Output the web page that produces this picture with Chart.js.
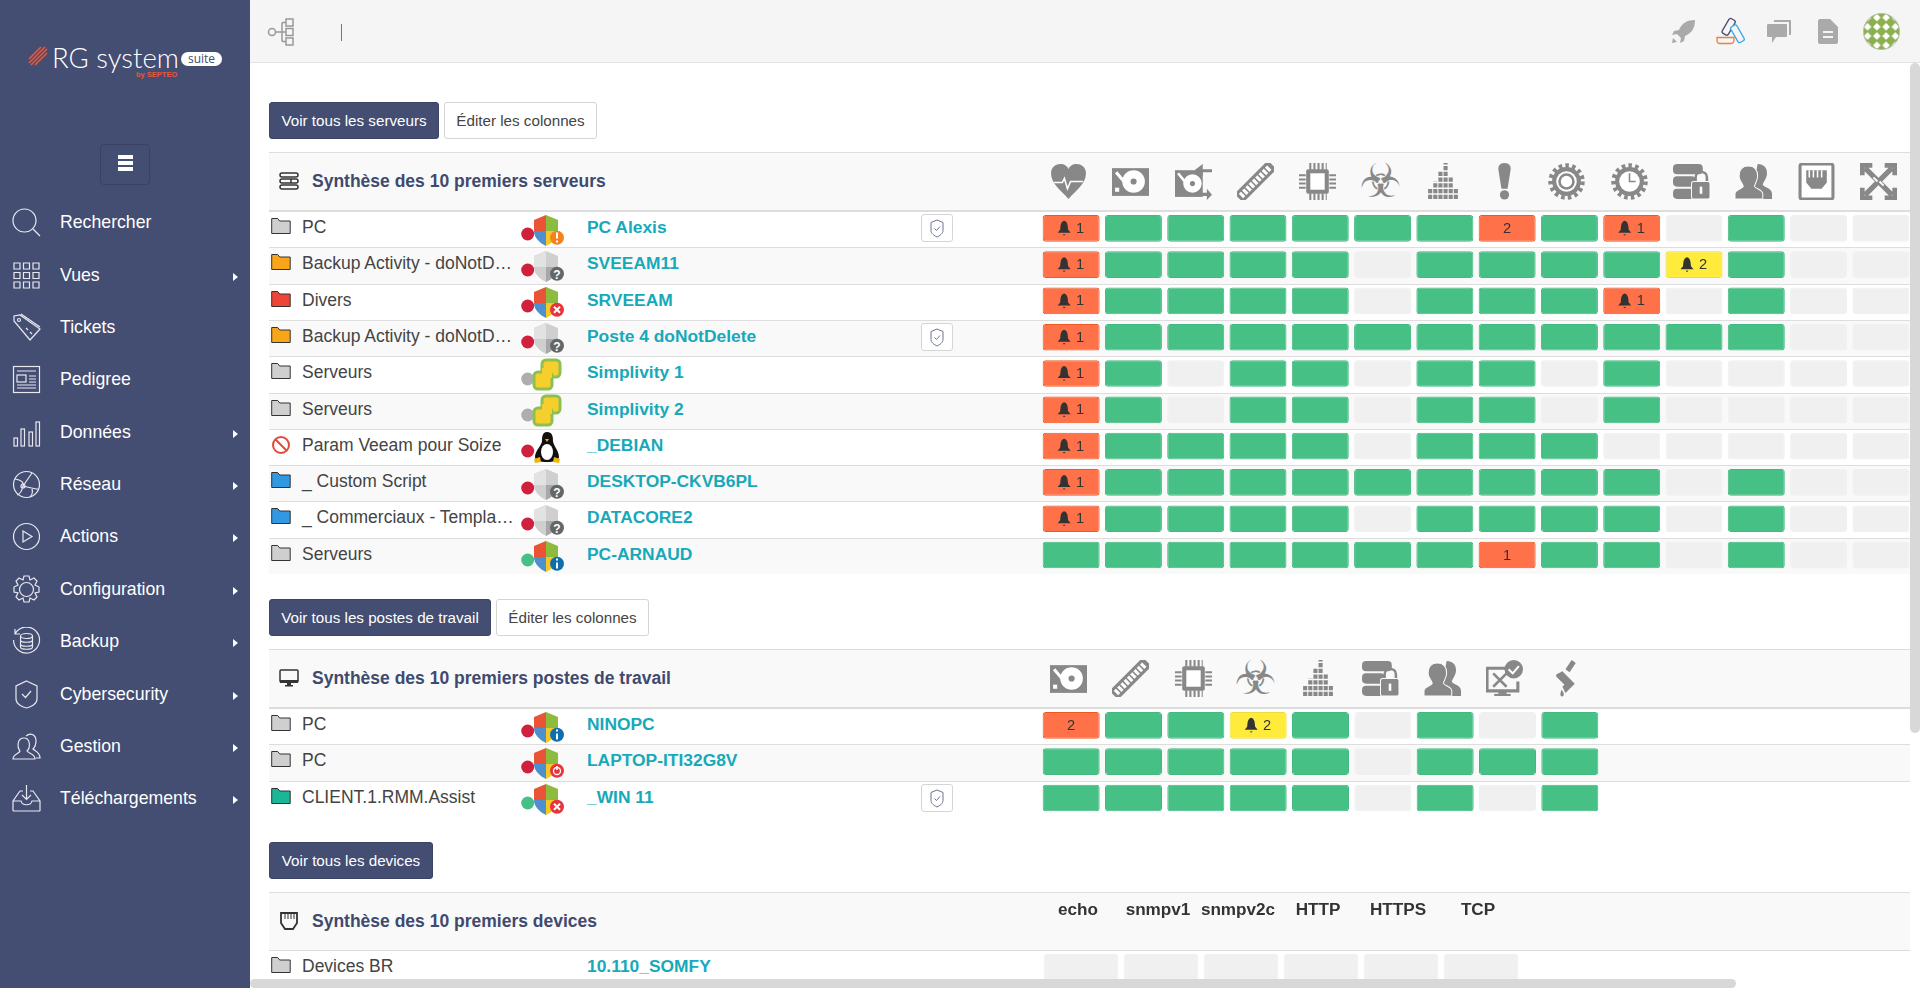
<!DOCTYPE html>
<html lang="fr">
<head>
<meta charset="utf-8">
<title>RG system suite</title>
<script src="https://cdn.jsdelivr.net/npm/chart.js@4/dist/chart.umd.min.js"></script>
<style>
html, body { margin: 0; padding: 0; width: 1920px; height: 988px; overflow: hidden; background: #fff; font-family: "Liberation Sans", Arial, sans-serif; }
#page, .abs, canvas { position: absolute; }
#page { left: 0; top: 0; width: 1920px; height: 988px; overflow: hidden; }
#sidebar { left: 0; top: 0; width: 250px; height: 988px; background: #444d72; }
#topbar { left: 250px; top: 0; width: 1670px; height: 63px; background: #f5f5f5; border-bottom: 1px solid #e2e2e2; box-sizing: border-box; }
.menu-label { position: absolute; left: 60px; color: #fff; font-size: 17.7px; line-height: 20px; white-space: nowrap; }
.menu-icon { position: absolute; left: 12px; width: 29px; height: 29px; fill: none; stroke: #e8e9ef; stroke-width: 1.2; }
.menu-arrow { position: absolute; left: 233px; width: 0; height: 0; border-left: 5px solid #fff; border-top: 4.5px solid transparent; border-bottom: 4.5px solid transparent; }
.btn { position: absolute; height: 37px; line-height: 36px; box-sizing: border-box; font-size: 15.2px; text-align: center; border-radius: 3px; white-space: nowrap; }
.btn.dark { background: #444d72; color: #fff; border: 1px solid #3b4466; }
.btn.light { background: #fff; color: #444; border: 1px solid #d5d5d5; }
.thead { position: absolute; left: 269px; width: 1641px; height: 59px; box-sizing: border-box; background: #f9f9f9; border-top: 1px solid #ddd; border-bottom: 1px solid #ddd; }
.title { position: absolute; left: 312px; color: #3f4a6e; font-size: 17.5px; font-weight: bold; line-height: 20px; white-space: nowrap; }
.row { position: absolute; left: 269px; width: 1641px; box-sizing: border-box; border-top: 1px solid #ddd; }
.row.odd { background: #f9f9f9; }
.cat { position: absolute; color: #444; left: 302px; font-size: 17.5px; line-height: 20px; white-space: nowrap; }
.link { position: absolute; color: #17a9b9; left: 587px; font-size: 17.4px; font-weight: bold; line-height: 20px; white-space: nowrap; }
.head-icon { position: absolute; width: 37px; height: 37px; fill: #888; overflow: visible; }
.ico { position: absolute; overflow: visible; }
.shield-btn { position: absolute; left: 921px; width: 32px; height: 28px; box-sizing: border-box; background: #fff; border: 1px solid #d5d5d5; border-radius: 3px; }
.scroll { position: absolute; background: #d8d8d8; border-radius: 5px; }
</style>
</head>
<body>
<svg width="0" height="0" style="position:absolute">
  <defs>
    <!-- header icons -->
    <symbol id="i-heart" viewBox="0 0 36 36"><path d="M18 35C10 26 1 20 1 10 1 4 6 1 10 1c4 0 7 2 8 5 1-3 4-5 8-5 4 0 9 3 9 9 0 10-9 16-17 25z"/><path d="M4 19h8l2-4 3 10 3-7h12" fill="none" stroke="#fff" stroke-width="1.5"/></symbol>
    <symbol id="i-hdd" viewBox="0 0 36 36"><rect x="0" y="5" width="36" height="27"/><circle cx="21" cy="18" r="11" fill="#fff"/><circle cx="21" cy="18" r="3"/><path d="M4 9l11 13" stroke="#fff" stroke-width="3"/><rect x="3" y="24" width="4" height="4" fill="#fff"/></symbol>
    <symbol id="i-swap" viewBox="0 0 36 36"><rect x="0" y="7" width="27" height="26"/><circle cx="17" cy="20" r="9" fill="#fff"/><circle cx="17" cy="20" r="2.5"/><path d="M3 10l9 11" stroke="#fff" stroke-width="2.5"/><path d="M36 6H27V1l-8 6 8 6V9h9zM24 29h7v-4l5 6-5 5v-4h-7z"/></symbol>
    <symbol id="i-ram" viewBox="0 0 36 36"><g transform="rotate(-45 18 18)"><rect x="-5" y="12" width="46" height="12"/><line x1="-2" y1="18" x2="38" y2="18" stroke="#fff" stroke-width="6" stroke-dasharray="3 1.5"/></g></symbol>
    <symbol id="i-cpu" viewBox="0 0 36 36"><rect x="7" y="6" width="22" height="24" rx="2"/><rect x="11" y="10" width="14" height="16" fill="#fff"/><g stroke="#888" stroke-dasharray="2 2"><line x1="10" y1="3" x2="27" y2="3" stroke-width="7"/><line x1="10" y1="33" x2="27" y2="33" stroke-width="7"/><line x1="3" y1="11" x2="3" y2="27" stroke-width="7"/><line x1="33" y1="11" x2="33" y2="27" stroke-width="7"/></g></symbol>
    <symbol id="i-bio" viewBox="0 0 36 36" overflow="visible"><text x="18" y="33.500" text-anchor="middle" font-family="DejaVu Sans" font-size="46">☣</text></symbol>
    <symbol id="i-load" viewBox="0 0 36 36"><g stroke="#888" stroke-width="4" stroke-dasharray="4 1.600"><line x1="6" y1="35" x2="6" y2="24"/><line x1="11" y1="35" x2="11" y2="18"/><line x1="16" y1="35" x2="16" y2="8"/><line x1="21" y1="35" x2="21" y2="0"/><line x1="26" y1="35" x2="26" y2="14"/><line x1="31" y1="35" x2="31" y2="24"/></g></symbol>
    <symbol id="i-alert" viewBox="0 0 36 36"><path d="M18 0c-5 0-6 3-6 6l3 19h6l3-19c0-3-1-6-6-6z"/><circle cx="18" cy="31" r="4.5"/></symbol>
    <symbol id="i-gear" viewBox="0 0 36 36"><circle cx="18" cy="18" r="15.5" fill="none" stroke="#888" stroke-width="4.5" stroke-dasharray="3.4 3.1"/><circle cx="18" cy="18" r="14" fill="#888"/><circle cx="18" cy="18" r="10" fill="#fff"/><circle cx="18" cy="18" r="8" fill="#888"/><circle cx="18" cy="18" r="5.5" fill="#fff"/></symbol>
    <symbol id="i-gearclock" viewBox="0 0 36 36"><circle cx="18" cy="18" r="15.5" fill="none" stroke="#888" stroke-width="4.5" stroke-dasharray="3.4 3.1"/><circle cx="18" cy="18" r="14" fill="#888"/><circle cx="18" cy="18" r="10" fill="#fff"/><path d="M18 10v8h6" fill="none" stroke="#888" stroke-width="1.5"/></symbol>
    <symbol id="i-lock" viewBox="0 0 36 36"><rect x="0" y="1" width="29" height="10" rx="4"/><rect x="0" y="13" width="22" height="10" rx="4"/><rect x="0" y="25" width="22" height="10" rx="4"/><path d="M22 19v-5c0-7 11-7 11 0v5" fill="none" stroke="#888" stroke-width="2.5"/><rect x="18" y="18" width="18" height="17" rx="2" stroke="#f9f9f9"/><rect x="26" y="23" width="2.5" height="7" fill="#fff"/></symbol>
    <symbol id="i-users" viewBox="0 0 36 36"><path d="M22 1c7 0 10 5 9 11-1 4-3 6-4 9 1 3 9 3 9 9v5H16z"/><path d="M13 3c6 0 9 4 9 10 0 5-3 7-3 10 1 2 8 3 8 7v5H0v-5c0-4 7-5 8-7 0-3-4-5-4-10C4 7 7 3 13 3z" stroke="#f9f9f9"/></symbol>
    <symbol id="i-ethernet" viewBox="0 0 36 36"><rect x="2" y="1" width="32" height="34" rx="2" fill="#fff" stroke="#888" stroke-width="3"/><path d="M8 7h20v12l-5 6H13l-5-6z"/><path d="M11 7v7M15 7v7M19 7v7M23 7v7" stroke="#fff" stroke-width="1.5"/></symbol>
    <symbol id="i-switch" viewBox="0 0 36 36"><path d="M2 12V2h10M24 2h10v10M34 24v10H24M12 34H2V24M5 5l8 8 10 10 8 8M31 5l-8 8-10 10-8 8" fill="none" stroke="#888" stroke-width="5"/><path d="M17 18l-4-4M19 18l4 4" stroke="#f9f9f9" stroke-width="2"/></symbol>
    <symbol id="i-tools" viewBox="0 0 36 36"><path d="M20 8H1v22h30v-9" fill="none" stroke="#888" stroke-width="3"/><rect x="12" y="30" width="8" height="3"/><rect x="8" y="33" width="16" height="2"/><path d="M7 13l13 13M20 13L7 26" stroke="#888" stroke-width="2.5"/><circle cx="27" cy="9" r="9"/><path d="M22 9l4 4 6-7" fill="none" stroke="#fff" stroke-width="2"/></symbol>
    <symbol id="i-brush" viewBox="0 0 36 36"><path d="M17 9L23 0l4 3-6 9zM8 14l6-3 12 12-9 9-3-6 2-2-8-8zM13 29c2 2 3 4 2 6-2 1-3 0-3-2z"/></symbol>
    <!-- sidebar icons -->
    <symbol id="m-search" viewBox="0 0 29 29"><circle cx="12.5" cy="12.5" r="11.5"/><path d="M21 21l7 7"/></symbol>
    <symbol id="m-grid" viewBox="0 0 29 29"><path d="M2 2h6v6H2zM11.500 2h6v6h-6zM21 2h6v6h-6zM2 11.500h6v6H2zM11.500 11.500h6v6h-6zM21 11.500h6v6h-6zM2 21h6v6H2zM11.500 21h6v6h-6zM21 21h6v6h-6z"/></symbol>
    <symbol id="m-tag" viewBox="0 0 29 29"><path d="M2 8V3l6-1 20 14-10 11-16-19z"/><path d="M9 1l19 13"/><circle cx="7" cy="7" r="1.500"/><path d="M14 15l2 2M18 19l2 2"/></symbol>
    <symbol id="m-news" viewBox="0 0 29 29"><rect x="1.500" y="1.500" width="26" height="26"/><rect x="5" y="10" width="9" height="7"/><path d="M5 6h19M17 11h7M17 14h7M17 17h7M5 20h19M5 23h19"/></symbol>
    <symbol id="m-bars" viewBox="0 0 29 29"><rect x="2" y="20" width="3.500" height="8"/><rect x="9" y="11" width="3.500" height="17"/><rect x="17" y="14" width="3.500" height="14"/><rect x="24" y="4" width="3.500" height="24"/></symbol>
    <symbol id="m-globe" viewBox="0 0 29 29"><circle cx="14.500" cy="14.500" r="13"/><path d="M3 9c6 1 9 3 8 7-1 5-3 8-6 9M11 16c5 1 11 3 15 3M11 16L20 3M20 19c1 3 0 6-2 8"/><circle cx="11" cy="16" r="2"/></symbol>
    <symbol id="m-play" viewBox="0 0 29 29"><circle cx="14.500" cy="14.500" r="13"/><path d="M11 9l9 5.500-9 5.500z"/></symbol>
    <symbol id="m-gear" viewBox="0 0 29 29"><circle cx="14.500" cy="14.500" r="7"/><path d="M12 1h5l1 4 4-2 3 3-2 4 4 2v5l-4 1 2 4-3 3-4-2-1 4h-5l-1-4-4 2-3-3 2-4-4-1v-5l4-2-2-4 3-3 4 2z"/></symbol>
    <symbol id="m-backup" viewBox="0 0 29 29"><path d="M3 7a13 13 0 1 1-1.500 6M3 2v5h5"/><ellipse cx="14.500" cy="9" rx="6" ry="2.500"/><path d="M8.500 9v11c0 3 12 3 12 0V9M8.500 13c0 3 12 3 12 0M8.500 17c0 3 12 3 12 0"/></symbol>
    <symbol id="m-shield" viewBox="0 0 29 29"><path d="M14.500 1L25 6v13c0 5-6 8-10.500 9C10 27 4 24 4 19V6z"/><path d="M10 14l3.500 3.500L19 11"/></symbol>
    <symbol id="m-users" viewBox="0 0 29 29"><path d="M1 27c0-5 6-5 7-8-3-4-3-13 4-13 6 0 7 9 3 13 2 3 8 3 8 8zM14 4c5-4 10-1 10 5 0 3-1 6-3 8 2 2 7 3 7 9h-4"/></symbol>
    <symbol id="m-inbox" viewBox="0 0 29 29"><path d="M1 27V17L8 7h3M28 27V17L21 7h-3M1 17h8c1 5 10 5 11 0h8M1 27h27M14.500 1v14M10 11l4.500 4.500L19 11"/></symbol>
    <!-- table / top icons -->
    <symbol id="t-server" viewBox="0 0 20 18"><g fill="none" stroke="#333" stroke-width="1.500"><rect x="1" y="1" width="18" height="4" rx="2"/><rect x="1" y="7" width="18" height="4" rx="2"/><rect x="1" y="13" width="18" height="4" rx="2"/><path d="M12 7v4"/></g></symbol>
    <symbol id="t-monitor" viewBox="0 0 20 18"><rect x="1" y="1" width="18" height="12" rx="1" fill="none" stroke="#333" stroke-width="1.500"/><rect x="1" y="11" width="18" height="3" fill="#333"/><rect x="8" y="14" width="4" height="2" fill="#333"/><rect x="6" y="16" width="8" height="1.500" fill="#333"/></symbol>
    <symbol id="t-eth" viewBox="0 0 20 18"><path d="M2 1h16v10l-4 6H6l-4-6z" fill="none" stroke="#333" stroke-width="1.800"/><path d="M6 2v5M9 2v5M12 2v5M15 2v5" stroke="#333"/></symbol>
  </defs>
</svg>
<div id="page">
  <div id="topbar" class="abs"></div>
  <div id="content"></div>
  <canvas id="serverChart" width="872" height="363" style="left:1040.4px;top:211px"></canvas>
  <canvas id="stationChart" width="561" height="109" style="left:1040.4px;top:708px"></canvas>
  <canvas id="deviceChart" width="480" height="95" style="left:1040.5px;top:892px"></canvas>
  <div id="sidebar" class="abs"></div>
  <div class="scroll" style="left:1910px;top:63px;width:10px;height:670px"></div>
  <div class="scroll" style="left:250px;top:979px;width:1486px;height:9px"></div>
</div>
<script>
// Status codes used by the grids
const NONE = 0, OK = 1, CRITICAL = 2, WARNING = 3;

const serverColumns = ['heart', 'hdd', 'swap', 'ram', 'cpu', 'bio', 'load', 'alert', 'gear', 'gearclock', 'lock', 'users', 'ethernet', 'switch'];
const serverNames = ['PC Alexis', 'SVEEAM11', 'SRVEEAM', 'Poste 4 doNotDelete', 'Simplivity 1', 'Simplivity 2', '_DEBIAN', 'DESKTOP-CKVB6PL', 'DATACORE2', 'PC-ARNAUD'];
const serverGroups = ['PC', 'Backup Activity - doNotD…', 'Divers', 'Backup Activity - doNotD…', 'Serveurs', 'Serveurs', 'Param Veeam pour Soize', '_ Custom Script', '_ Commerciaux - Templa…', 'Serveurs'];
const serverFolders = ['grey', 'orange', 'red', 'orange', 'grey', 'grey', 'ban', 'blue', 'blue', 'grey'];
const serverDots = ['red', 'red', 'red', 'red', 'grey', 'grey', 'red', 'red', 'red', 'green'];
const serverOs = ['win-warn', 'unknown', 'win-error', 'unknown', 'vm', 'vm', 'linux', 'unknown', 'unknown', 'win-info'];
const serverProtected = [true, false, false, true, false, false, false, false, false, false];
const serverStatus = [
  [2, 1, 1, 1, 1, 1, 1, 2, 1, 2, 0, 1, 0, 0],
  [2, 1, 1, 1, 1, 0, 1, 1, 1, 1, 3, 1, 0, 0],
  [2, 1, 1, 1, 1, 0, 1, 1, 1, 2, 0, 1, 0, 0],
  [2, 1, 1, 1, 1, 1, 1, 1, 1, 1, 1, 1, 0, 0],
  [2, 1, 0, 1, 1, 0, 1, 1, 0, 1, 0, 0, 0, 0],
  [2, 1, 0, 1, 1, 0, 1, 1, 0, 1, 0, 0, 0, 0],
  [2, 1, 1, 1, 1, 0, 1, 1, 1, 0, 0, 0, 0, 0],
  [2, 1, 1, 1, 1, 1, 1, 1, 1, 1, 0, 1, 0, 0],
  [2, 1, 1, 1, 1, 0, 1, 1, 1, 1, 0, 1, 0, 0],
  [1, 1, 1, 1, 1, 1, 1, 2, 1, 1, 0, 1, 0, 0]
];
const serverCounts = [
  [1, 0, 0, 0, 0, 0, 0, 2, 0, 1, 0, 0, 0, 0],
  [1, 0, 0, 0, 0, 0, 0, 0, 0, 0, 2, 0, 0, 0],
  [1, 0, 0, 0, 0, 0, 0, 0, 0, 1, 0, 0, 0, 0],
  [1, 0, 0, 0, 0, 0, 0, 0, 0, 0, 0, 0, 0, 0],
  [1, 0, 0, 0, 0, 0, 0, 0, 0, 0, 0, 0, 0, 0],
  [1, 0, 0, 0, 0, 0, 0, 0, 0, 0, 0, 0, 0, 0],
  [1, 0, 0, 0, 0, 0, 0, 0, 0, 0, 0, 0, 0, 0],
  [1, 0, 0, 0, 0, 0, 0, 0, 0, 0, 0, 0, 0, 0],
  [1, 0, 0, 0, 0, 0, 0, 0, 0, 0, 0, 0, 0, 0],
  [0, 0, 0, 0, 0, 0, 0, 1, 0, 0, 0, 0, 0, 0]
];
const serverNoBell = ['alert'];

const stationColumns = ['hdd', 'ram', 'cpu', 'bio', 'load', 'lock', 'users', 'tools', 'brush'];
const stationNames = ['NINOPC', 'LAPTOP-ITI32G8V', '_WIN 11'];
const stationGroups = ['PC', 'PC', 'CLIENT.1.RMM.Assist'];
const stationFolders = ['grey', 'grey', 'teal'];
const stationDots = ['red', 'red', 'green'];
const stationOs = ['win-info', 'win-power', 'win-error'];
const stationProtected = [false, false, true];
const stationStatus = [
  [2, 1, 1, 3, 1, 0, 1, 0, 1],
  [1, 1, 1, 1, 1, 0, 1, 1, 1],
  [1, 1, 1, 1, 1, 0, 1, 0, 1]
];
const stationCounts = [
  [2, 0, 0, 2, 0, 0, 0, 0, 0],
  [0, 0, 0, 0, 0, 0, 0, 0, 0],
  [0, 0, 0, 0, 0, 0, 0, 0, 0]
];
const stationNoBell = ['hdd'];

const deviceColumns = ['echo', 'snmpv1', 'snmpv2c', 'HTTP', 'HTTPS', 'TCP'];
const deviceNames = ['10.110_SOMFY'];
const deviceGroups = ['Devices BR'];
const deviceStatus = [[0, 0, 0, 0, 0, 0]];
const deviceCounts = [[0, 0, 0, 0, 0, 0]];

const menuItems = ['Rechercher', 'Vues', 'Tickets', 'Pedigree', 'Données', 'Réseau', 'Actions', 'Configuration', 'Backup', 'Cybersecurity', 'Gestion', 'Téléchargements'];
const menuIcons = ['search', 'grid', 'tag', 'news', 'bars', 'globe', 'play', 'gear', 'backup', 'shield', 'users', 'inbox'];
const menuHasArrow = [false, true, false, false, true, true, true, true, true, true, true, true];

// Layout and colours
const ROW_HEIGHT = 36.3;
const COL_PITCH = 62.3;
const STATUS_FILL = { [NONE]: '#f0f0f0', [OK]: '#47c086', [CRITICAL]: '#ff7149', [WARNING]: '#ffeb3b' };
const STATUS_EDGE = { [NONE]: '#f0f0f0', [OK]: '#43b980', [CRITICAL]: '#ea5a22', [WARNING]: '#eedc3c' };
const FOLDER_FILL = { grey: '#cfcfcf', orange: '#f9a51a', red: '#ee4537', blue: '#3198e2', teal: '#19b697' };
const DOT_FILL = { red: '#d1203c', grey: '#aeaeae', green: '#47c086' };

const content = document.getElementById('content');

function addHtml(parent, html) {
  parent.insertAdjacentHTML('beforeend', html);
}

function folderSvg(kind, top) {
  if (kind === 'ban') {
    return `<svg class="ico" style="left:270px;top:${top}px" width="22" height="20" viewBox="0 0 22 20"><circle cx="11" cy="10" r="8" fill="none" stroke="#e2493a" stroke-width="2"/><path d="M5.500 4.500l11 11" stroke="#e2493a" stroke-width="2"/></svg>`;
  }
  return `<svg class="ico" style="left:271px;top:${top}px" width="20" height="18" viewBox="0 0 20 18"><path d="M.7 16.500V1.500h6l2 2.500h10.500v12.500z" fill="${FOLDER_FILL[kind]}" stroke="#333" stroke-width="1"/></svg>`;
}

function badgeSvg(kind) {
  const fills = { warn: '#f58220', error: '#e8343c', info: '#0f6fae', power: '#e8343c', unknown: '#666' };
  const marks = {
    warn: '<path d="M37 18.500v6M37 26.500v2" stroke="#fff" stroke-width="2"/>',
    error: '<path d="M34 20.700l6 6M40 20.700l-6 6" stroke="#fff" stroke-width="2"/>',
    info: '<path d="M37 22.500v6M37 18.500v2" stroke="#fff" stroke-width="2"/>',
    power: '<path d="M37 19v4" stroke="#fff" stroke-width="1.500"/><circle cx="37" cy="24" r="3.500" fill="none" stroke="#fff" stroke-width="1.300"/>',
    unknown: '<text x="37" y="28.500" text-anchor="middle" fill="#fff" font-size="12" font-weight="bold" font-family="Liberation Sans">?</text>'
  };
  return `<circle cx="37" cy="23.700" r="7" fill="${fills[kind]}"/>${marks[kind]}`;
}

function osSvg(kind) {
  const shield = 'M26 1l12 5v11c0 7-6 12-12 15-6-3-12-8-12-15V6z';
  if (kind === 'vm') {
    return '<rect x="22" y="1" width="18" height="17" rx="4" fill="#f6cf2c" stroke="#8cc152" stroke-width="3"/><rect x="14" y="13" width="18" height="17" rx="4" fill="#f6cf2c" stroke="#8cc152" stroke-width="3"/><rect x="22" y="9" width="10" height="10" fill="#f6cf2c"/>';
  }
  if (kind === 'linux') {
    return '<path d="M27 1c-5 0-5 6-5 9 0 4-7 10-7 16 0 4 5 5 12 5s12-2 12-5c0-6-6-12-6-16 0-3 0-9-6-9z" fill="#111"/><ellipse cx="27" cy="21" rx="6" ry="8" fill="#fff"/><path d="M25 8h4l-2 3zM14 28l6-2 1 5-6 1zM40 28l-6-2-1 5 6 1z" fill="#f4b400"/>';
  }
  if (kind === 'unknown') {
    return `<path d="${shield}" fill="#cfcfcf"/><path d="M26 1v16H14v-11z" fill="#e2e2e2"/><path d="M26 17h12c0 7-6 12-12 15z" fill="#a8a8a8"/>${badgeSvg('unknown')}`;
  }
  return `<path d="M26 1L14 6v11h12z" fill="#ea5335"/><path d="M26 1l12 5v11H26z" fill="#8dbb3e"/><path d="M14 17c0 7 6 12 12 15V17z" fill="#4c90cd"/><path d="M38 17c0 7-6 12-12 15V17z" fill="#f5c827"/>${badgeSvg(kind.slice(4))}`;
}

function shieldButton(top) {
  return `<div class="shield-btn" style="top:${top}px"><svg class="ico" style="left:8px;top:4px" width="14" height="19" viewBox="0 0 14 19"><path d="M7 1l6 2.500v8c0 3-3 5-6 6.500-3-1.500-6-3.500-6-6.500v-8z" fill="none" stroke="#6d7590"/><path d="M4.500 9.500L6.500 11.500 10 7.500" fill="none" stroke="#6d7590"/></svg></div>`;
}

function addRows(top, groups, folders, names, dots, os, guarded) {
  names.forEach((name, i) => {
    const rowTop = top + i * ROW_HEIGHT;
    addHtml(content, `<div class="row${i % 2 ? ' odd' : ''}" style="top:${rowTop}px;height:${ROW_HEIGHT}px"></div>`);
    addHtml(content, folderSvg(folders[i], rowTop + 6));
    addHtml(content, `<div class="cat" style="top:${rowTop + 6}px">${groups[i]}</div>`);
    if (dots) {
      addHtml(content, `<svg class="ico" style="left:520px;top:${rowTop + 2.500}px" width="46" height="34"><circle cx="7.700" cy="20" r="6.500" fill="${DOT_FILL[dots[i]]}"/>${osSvg(os[i])}</svg>`);
    }
    addHtml(content, `<div class="link" style="top:${rowTop + 6}px">${name}</div>`);
    if (guarded && guarded[i]) addHtml(content, shieldButton(rowTop + 3));
  });
}

function addHeader(top, iconId, title, columns) {
  addHtml(content, `<div class="thead" style="top:${top}px"></div>`);
  addHtml(content, `<svg class="ico" style="left:279px;top:${top + 20}px" width="20" height="18"><use href="#${iconId}"/></svg>`);
  addHtml(content, `<div class="title" style="top:${top + 19}px">${title}</div>`);
  if (!columns) return;
  columns.forEach((col, i) => {
    const left = 1040.4 + i * COL_PITCH + COL_PITCH / 2 - 3 - 18.500;
    addHtml(content, `<svg class="head-icon" style="left:${left}px;top:${top + 11}px"><use href="#i-${col}"/></svg>`);
  });
}

function addButton(left, top, width, kind, label) {
  addHtml(content, `<div class="btn ${kind}" style="left:${left}px;top:${top}px;width:${width}px">${label}</div>`);
}

function buildPage() {
  addButton(269, 102, 170, 'dark', 'Voir tous les serveurs');
  addButton(444, 102, 153, 'light', 'Éditer les colonnes');
  addHeader(152, 't-server', 'Synthèse des 10 premiers serveurs', serverColumns);
  addRows(211, serverGroups, serverFolders, serverNames, serverDots, serverOs, serverProtected);

  addButton(269, 599, 222, 'dark', 'Voir tous les postes de travail');
  addButton(496, 599, 153, 'light', 'Éditer les colonnes');
  addHeader(649, 't-monitor', 'Synthèse des 10 premiers postes de travail', stationColumns);
  addRows(708, stationGroups, stationFolders, stationNames, stationDots, stationOs, stationProtected);

  addButton(269, 842, 164, 'dark', 'Voir tous les devices');
  addHeader(892, 't-eth', 'Synthèse des 10 premiers devices', null);
  addRows(950, deviceGroups, ['grey'], deviceNames, null, null, null);

  // Top bar icons
  addHtml(content, `<svg class="ico" style="left:268px;top:18px" width="33" height="28" viewBox="0 0 33 28" fill="none" stroke="#999" stroke-width="1.500"><circle cx="4" cy="14" r="3.500"/><rect x="18" y="1" width="7" height="7"/><rect x="18" y="10.500" width="7" height="7"/><rect x="18" y="20" width="7" height="7"/><path d="M8 14h6M14 4.500v19M14 4.500h4M14 14h4M14 23.500h4"/></svg>`);
  addHtml(content, `<div class="abs" style="left:340.500px;top:24px;width:1.500px;height:17px;background:#777"></div>`);
  addHtml(content, `<svg class="ico" style="left:1671px;top:19px" width="25" height="25" viewBox="0 0 25 25" fill="#aaa"><path d="M24 1c-8 0-13 3-16 10l-5 1-2 4 5-1 4 4-1 5 4-2 1-5c7-3 10-8 10-16z"/><path d="M2 19l4 4-5 1z"/></svg>`);
  addHtml(content, `<svg class="ico" style="left:1716px;top:18px" width="30" height="27" viewBox="0 0 30 27" fill="none" stroke-width="1.300"><rect x="9" y="0" width="7" height="17" rx="2" transform="rotate(30 12 9)" stroke="#444d72" fill="#f5f5f5"/><rect x="18" y="7" width="7" height="18" rx="2" transform="rotate(-30 21 16)" stroke="#35aaf0" fill="#f5f5f5"/><path d="M1 19.500h17v3c0 2-2 3-3 3H4c-2 0-3-1-3-3z" stroke="#ee7f3f" fill="#f5f5f5"/></svg>`);
  addHtml(content, `<svg class="ico" style="left:1767px;top:19px" width="25" height="25" viewBox="0 0 25 25" fill="#aaa"><path d="M7 1h17v15h-2V3H7z"/><path d="M2 5h17c1 0 1 1 1 1v11c0 1-1 1-1 1H9l-4 6v-6H2c-1 0-2 0-2-1V6c0-1 1-1 2-1z"/></svg>`);
  addHtml(content, `<svg class="ico" style="left:1818px;top:19px" width="20" height="25" viewBox="0 0 20 25" fill="#aaa"><path d="M2 0h10l8 8v15c0 1-1 2-2 2H2c-1 0-2-1-2-2V2c0-1 1-2 2-2z"/><path d="M5 13h10M5 18h10" stroke="#f5f5f5" stroke-width="2"/></svg>`);
  addHtml(content, `<svg class="ico" style="left:1863px;top:13px" width="37" height="37" viewBox="0 0 37 37"><defs><pattern id="avatarTile" width="9.250" height="9.250" patternUnits="userSpaceOnUse"><rect width="9.250" height="9.250" fill="#8cb04f"/><path d="M4.600 .8l3.800 3.800-3.800 3.800L.8 4.600z" fill="#fff"/></pattern></defs><circle cx="18.500" cy="18.500" r="18" fill="url(#avatarTile)" stroke="#bbb"/></svg>`);

  // Sidebar
  const sidebar = document.getElementById('sidebar');
  addHtml(sidebar, `<svg class="ico" style="left:28px;top:46px" width="20" height="21" viewBox="0 0 20 21"><path d="M1 13L13 1M1 17L17 1M3 19L19 3M7 19L19 7" stroke="#e8583a" stroke-width="1.600"/></svg>`);
  addHtml(sidebar, `<div class="abs" style="left:52px;top:40px;color:#fff;font:300 27.500px Lato,sans-serif;line-height:36px;white-space:nowrap">RG system</div>`);
  addHtml(sidebar, `<div class="abs" style="left:181px;top:52px;width:41px;height:14px;background:#fff;border-radius:7px;color:#444d72;font:12px 'Open Sans',sans-serif;line-height:14px;text-align:center">suite</div>`);
  addHtml(sidebar, `<div class="abs" style="left:136px;top:70px;color:#e8583a;font:bold 7.500px 'Liberation Sans';line-height:9px;white-space:nowrap">by SEPTEO</div>`);
  addHtml(sidebar, `<div class="abs" style="left:100px;top:144px;width:50px;height:41px;box-sizing:border-box;border:1px solid #3a4263;border-radius:4px"></div>`);
  [155, 161, 167].forEach(y => addHtml(sidebar, `<div class="abs" style="left:118px;top:${y}px;width:15px;height:4px;background:#fff"></div>`));
  menuItems.forEach((item, i) => {
    const y = 222.200 + i * 52.370;
    addHtml(sidebar, `<svg class="menu-icon" style="top:${y - 14}px"><use href="#m-${menuIcons[i]}"/></svg>`);
    addHtml(sidebar, `<div class="menu-label" style="top:${y - 10}px">${item}</div>`);
    if (menuHasArrow[i]) addHtml(sidebar, `<div class="menu-arrow" style="top:${y - 2}px"></div>`);
  });
}

// Draws the bell and the count on top of the bars
const cellLabelPlugin = {
  id: 'cellLabels',
  afterDatasetsDraw(chart, args, opts) {
    const ctx = chart.ctx;
    ctx.save();
    ctx.fillStyle = '#333';
    ctx.font = '14.700px "Liberation Sans"';
    ctx.textAlign = 'center';
    ctx.textBaseline = 'middle';
    opts.counts.forEach((row, r) => {
      const bars = chart.getDatasetMeta(r).data;
      row.forEach((count, c) => {
        if (!count) return;
        const x = bars[c].x;
        const y = (bars[c].y + bars[c].base) / 2;
        if (opts.noBell.includes(chart.data.labels[c])) {
          ctx.fillText(String(count), x, y + 0.500);
          return;
        }
        drawBell(ctx, x - 7, y - 0.500);
        ctx.fillText(String(count), x + 9, y + 0.500);
      });
    });
    ctx.restore();
  }
};

function drawBell(ctx, x, y) {
  ctx.beginPath();
  ctx.moveTo(x, y - 7);
  ctx.bezierCurveTo(x + 4, y - 6, x + 3.500, y - 1, x + 4, y + 2);
  ctx.lineTo(x + 6.500, y + 5);
  ctx.lineTo(x - 6.500, y + 5);
  ctx.lineTo(x - 4, y + 2);
  ctx.bezierCurveTo(x - 3.500, y - 1, x - 4, y - 6, x, y - 7);
  ctx.closePath();
  ctx.fill();
  ctx.fillRect(x - 1, y + 6.500, 2, 1);
}

function buildStatusChart(canvasId, columns, rowNames, status, counts, noBell, barShare, showTicks) {
  const rowCount = status.length;
  const datasets = status.map((row, r) => ({
    label: rowNames[r],
    // one floating bar per cell, inset from the row band
    data: row.map(() => [r + 0.11, r + 0.845]),
    backgroundColor: row.map(s => STATUS_FILL[s]),
    borderColor: row.map(s => STATUS_EDGE[s]),
    borderWidth: 1,
    borderRadius: 3,
    borderSkipped: false,
    categoryPercentage: 1,
    barPercentage: barShare
  }));

  return new Chart(document.getElementById(canvasId), {
    type: 'bar',
    data: { labels: columns, datasets: datasets },
    options: {
      responsive: false,
      animation: false,
      devicePixelRatio: 1,
      layout: { padding: 0 },
      plugins: {
        legend: { display: false },
        tooltip: { enabled: false },
        cellLabels: { counts: counts, noBell: noBell }
      },
      scales: {
        x: {
          type: 'category',
          stacked: true,
          position: 'top',
          display: showTicks,
          afterFit: scale => {
            // the tick row sits in the table header, no side margins for long labels
            scale.height = showTicks ? 58 : 0;
            scale.paddingLeft = 0;
            scale.paddingRight = 0;
          },
          grid: { display: false },
          border: { display: false },
          ticks: {
            autoSkip: false,
            maxRotation: 0,
            padding: 21,
            labelOffset: -3,
            color: '#333',
            font: { family: 'Liberation Sans', size: 17.140, weight: 'bold' }
          }
        },
        y: { stacked: false, display: false, reverse: true, min: 0, max: rowCount }
      }
    },
    plugins: [cellLabelPlugin]
  });
}

buildPage();
buildStatusChart('serverChart', serverColumns, serverNames, serverStatus, serverCounts, serverNoBell, 0.915, false);
buildStatusChart('stationChart', stationColumns, stationNames, stationStatus, stationCounts, stationNoBell, 0.915, false);
buildStatusChart('deviceChart', deviceColumns, deviceNames, deviceStatus, deviceCounts, [], 0.9375, true);
</script>
</body>
</html>
